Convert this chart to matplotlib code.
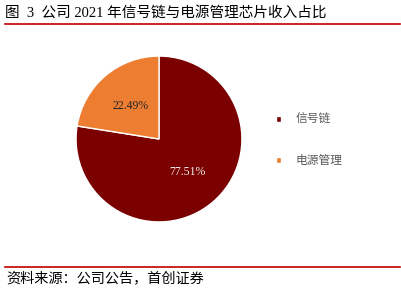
import matplotlib
matplotlib.use('Agg')
import matplotlib.pyplot as plt
from matplotlib.lines import Line2D

# chart data
labels = ['信号链', '电源管理']
shares = [77.51, 22.49]
colors = ['#7B0000', '#ED7D31']
pct_colors = ['#F2F2F2', '#262626']

title = '图  3  公司 2021 年信号链与电源管理芯片收入占比'
source = '资料来源：公司公告，首创证券'

fam = ['Liberation Serif', 'Noto Sans CJK SC']
plt.rcParams['font.family'] = fam

fig = plt.figure(figsize=(4.02, 2.92), dpi=100)

# title and red rules
fig.text(0.012, 0.956, title, fontsize=10.5, va='center', ha='left', color='#000000')
fig.add_artist(Line2D([0.012, 0.995], [0.918, 0.918], color='#C00000', lw=1.2))
fig.add_artist(Line2D([0.012, 0.995], [0.086, 0.086], color='#C00000', lw=1.2))
fig.text(0.015, 0.045, source, fontsize=10.2, va='center', ha='left',
         style='italic', color='#000000')

# pie
ax = fig.add_axes([0.189, 0.240, 0.413, 0.568])
wedges, texts, autotexts = ax.pie(
    shares, colors=colors, startangle=90, counterclock=False,
    autopct='%.2f%%', pctdistance=0.52,
    wedgeprops=dict(edgecolor='white', linewidth=1.0),
    textprops=dict(fontsize=8.5))
for t, c in zip(autotexts, pct_colors):
    t.set_color(c)
ax.set_xlim(-1, 1)
ax.set_ylim(-1, 1)
ax.set_aspect('equal')

# legend
fig.legend(wedges, labels, loc='center left', bbox_to_anchor=(0.66, 0.518),
           frameon=False, fontsize=8.5, labelspacing=2.45,
           handlelength=0.45, handleheight=0.45, handletextpad=1.2,
           labelcolor='#595959')

fig.savefig('out.png', dpi=100)
